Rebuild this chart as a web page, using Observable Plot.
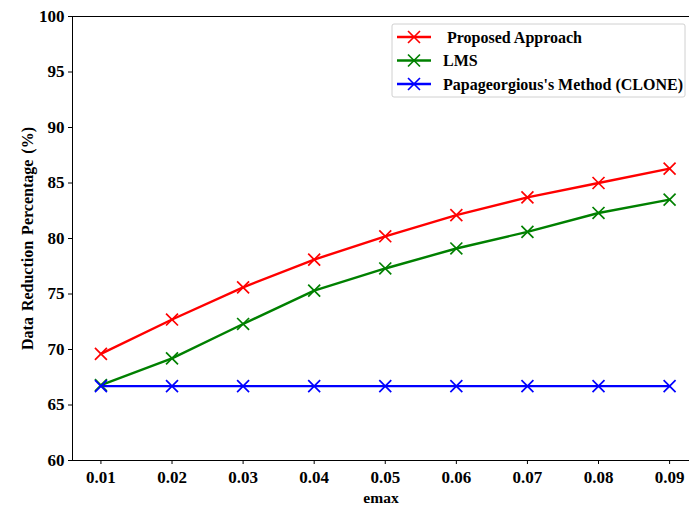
<!DOCTYPE html>
<html>
<head>
<meta charset="utf-8">
<script src="https://cdn.jsdelivr.net/npm/d3@7"></script>
<script src="https://cdn.jsdelivr.net/npm/@observablehq/plot@0.6"></script>
<style>
  html, body { margin: 0; padding: 0; background: #fff; }
  #chart { position: relative; width: 689px; height: 506px; }
</style>
</head>
<body>
<div id="chart"></div>
<script>
const emax = [0.01, 0.02, 0.03, 0.04, 0.05, 0.06, 0.07, 0.08, 0.09];
const proposed = [69.6, 72.7, 75.6, 78.1, 80.2, 82.1, 83.7, 85.0, 86.3];
const lms = [66.8, 69.2, 72.3, 75.3, 77.3, 79.1, 80.6, 82.3, 83.5];
const clone = [66.7, 66.7, 66.7, 66.7, 66.7, 66.7, 66.7, 66.7, 66.7];
const seriesNames = [" Proposed Approach", "LMS", "Papageorgious's Method (CLONE)"];
const seriesColors = ["#ff0000", "#008000", "#0000ff"];
const xTicks = [0.01, 0.02, 0.03, 0.04, 0.05, 0.06, 0.07, 0.08, 0.09];
const yTicks = [60, 65, 70, 75, 80, 85, 90, 95, 100];

const seriesValues = [proposed, lms, clone];
const data = seriesNames.flatMap((name, i) =>
  emax.map((x, j) => ({series: name, x, y: seriesValues[i][j]})));

const font = "'Liberation Serif', 'Times New Roman', serif";

const chart = Plot.plot({
  width: 689,
  height: 506,
  marginLeft: 72,
  marginRight: 0,
  marginTop: 16,
  marginBottom: 46,
  style: {fontFamily: font, fontSize: "17px", fontWeight: "bold", color: "#000", background: "#fff"},
  x: {domain: [0.006, 0.0928], ticks: xTicks, tickFormat: d => d.toFixed(2), label: "emax", labelAnchor: "center", labelArrow: "none", tickSize: 4, tickPadding: 6, labelOffset: 42, line: true},
  y: {domain: [60, 100], ticks: yTicks, label: "Data Reduction Percentage (%)", labelAnchor: "center", labelArrow: "none", tickSize: 4, tickPadding: 4, labelOffset: 51, line: true},
  color: {domain: seriesNames, range: seriesColors},
  marks: [
    Plot.ruleY([100], {stroke: "#000", strokeWidth: 1.2}),
    Plot.line(data, {x: "x", y: "y", z: "series", stroke: "series", strokeWidth: 2.4}),
    Plot.dot(data, {x: "x", y: "y", stroke: "series", symbol: "times", r: 5.5, strokeWidth: 1.7})
  ]
});
document.getElementById("chart").appendChild(chart);

const svg = d3.select(chart);
svg.selectAll("[aria-label='y-axis label'] text").style("font-size", "16px").style("word-spacing", "2px");
svg.selectAll("[aria-label='x-axis label'] text").style("font-size", "15.5px");

// legend
const lg = svg.append("g").attr("class", "legend").attr("text-anchor", "start");
lg.append("rect").attr("x", 392).attr("y", 24).attr("width", 293).attr("height", 73)
  .attr("rx", 2).attr("fill", "#fff").attr("stroke", "#d0d0d0").attr("stroke-width", 1);
const sym = d3.symbol(d3.symbolTimes, Math.PI * 5.5 * 5.5);
seriesNames.forEach((name, i) => {
  const y = 37 + i * 23.5;
  const g = lg.append("g");
  g.append("line").attr("x1", 397).attr("x2", 431).attr("y1", y).attr("y2", y)
    .attr("stroke", seriesColors[i]).attr("stroke-width", 2.4);
  g.append("path").attr("d", sym()).attr("transform", `translate(414,${y})`)
    .attr("fill", "none").attr("stroke", seriesColors[i]).attr("stroke-width", 1.7);
  g.append("text").attr("x", 443).attr("y", y).attr("dy", "0.35em")
    .attr("xml:space", "preserve").style("white-space", "pre")
    .attr("font-family", font).attr("font-weight", "bold").attr("font-size", 16)
    .attr("text-anchor", "start")
    .attr("fill", "#000").text(name);
});
</script>
</body>
</html>
